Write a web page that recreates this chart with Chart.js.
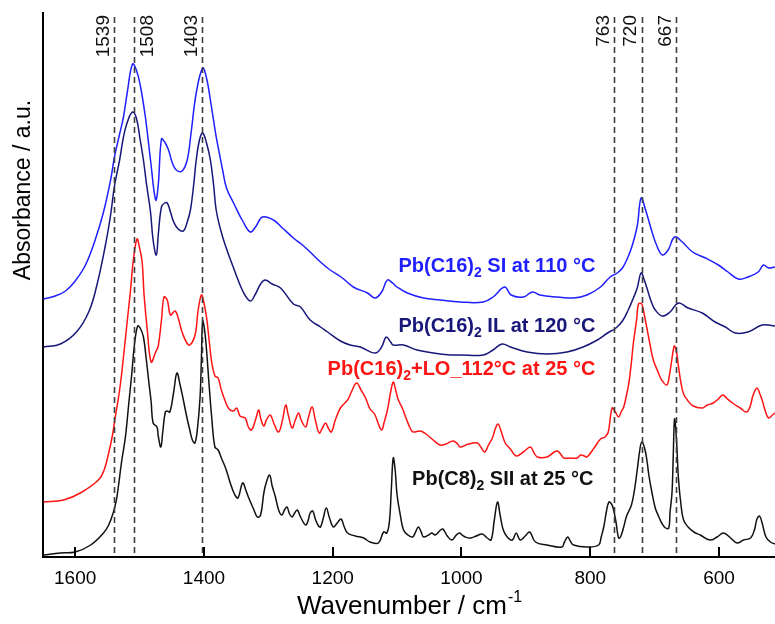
<!DOCTYPE html>
<html>
<head>
<meta charset="utf-8">
<script src="https://cdn.jsdelivr.net/npm/chart.js@4.4.1/dist/chart.umd.min.js"></script>
<style>
  html, body { margin: 0; padding: 0; background: #ffffff; }
  #wrap { width: 775px; height: 624px; }
</style>
</head>
<body>
<div id="wrap"><canvas id="chart" width="775" height="624"></canvas></div>
<script>
// FTIR spectra of lead(II) alkanoates (absorbance, arbitrary offsets)

const siWavenumber = [1649,1631,1615,1600,1584,1569,1556,1545,1539,1531,1525,1519,1511,1505,1499,1491,1483,1475,1471,1466,1461,1455,1449,1443,1434,1426,1420,1412,1402,1396,1390,1382,1378,1371,1365,1354,1339,1328,1320,1309,1292,1278,1261,1247,1235,1219,1204,1185,1168,1146,1134,1124,1115,1107,1100,1084,1059,1033,1002,966,951,933,923,904,890,878,851,826,805,784,769,758,750,742,735,727,721,714,704,697,688,679,669,657,641,621,601,586,570,555,539,531,523,513];
const siAbsorbance = [2.58,2.61,2.66,2.76,2.92,3.17,3.45,3.77,4.00,4.23,4.40,4.65,4.93,4.87,4.72,4.40,3.97,3.57,3.72,4.18,4.15,4.07,3.94,3.87,3.86,3.97,4.24,4.64,4.89,4.79,4.57,4.24,4.10,3.87,3.69,3.54,3.35,3.25,3.30,3.40,3.37,3.29,3.19,3.12,3.05,2.95,2.87,2.79,2.70,2.64,2.59,2.65,2.77,2.74,2.70,2.64,2.59,2.57,2.55,2.55,2.60,2.70,2.62,2.60,2.65,2.62,2.60,2.59,2.62,2.70,2.80,2.84,2.89,2.99,3.11,3.31,3.59,3.47,3.25,3.12,3.02,3.07,3.20,3.15,3.05,2.99,2.92,2.85,2.78,2.80,2.85,2.92,2.89,2.90];

const ilWavenumber = [1649,1623,1598,1579,1567,1553,1545,1539,1531,1525,1519,1511,1505,1499,1494,1489,1483,1479,1474,1471,1466,1461,1457,1452,1447,1440,1432,1426,1421,1416,1412,1407,1402,1396,1390,1385,1381,1374,1367,1354,1339,1328,1320,1312,1305,1294,1281,1261,1250,1235,1219,1208,1188,1173,1157,1134,1124,1117,1110,1106,1090,1069,1044,1017,1002,966,951,937,924,898,867,836,811,789,773,760,750,741,733,727,721,716,711,705,699,688,676,663,648,626,606,590,575,555,533,513];
const ilAbsorbance = [2.10,2.13,2.25,2.45,2.70,3.12,3.42,3.71,3.97,4.20,4.35,4.45,4.39,4.17,3.97,3.72,3.45,3.17,3.02,3.22,3.50,3.54,3.54,3.45,3.35,3.28,3.26,3.35,3.47,3.72,3.97,4.17,4.24,4.14,3.97,3.72,3.47,3.27,3.12,2.89,2.65,2.56,2.63,2.73,2.77,2.73,2.69,2.53,2.50,2.37,2.30,2.25,2.16,2.12,2.10,2.04,2.10,2.20,2.15,2.12,2.12,2.07,2.04,2.02,2.02,2.02,2.07,2.13,2.10,2.05,2.03,2.05,2.10,2.17,2.24,2.29,2.36,2.47,2.59,2.69,2.84,2.77,2.67,2.55,2.47,2.41,2.45,2.54,2.49,2.44,2.35,2.30,2.24,2.25,2.32,2.31];

const loWavenumber = [1649,1618,1592,1564,1555,1548,1542,1538,1531,1525,1519,1514,1510,1504,1500,1496,1493,1488,1482,1475,1471,1466,1462,1457,1452,1445,1440,1434,1424,1418,1413,1409,1404,1401,1396,1392,1388,1383,1378,1373,1367,1361,1354,1349,1344,1336,1331,1326,1320,1315,1312,1307,1303,1297,1291,1284,1278,1273,1269,1263,1258,1253,1249,1242,1238,1232,1227,1221,1216,1211,1207,1202,1196,1188,1177,1171,1163,1156,1149,1142,1135,1129,1124,1120,1115,1110,1106,1103,1098,1092,1085,1079,1075,1064,1055,1044,1033,1024,1013,1006,1002,989,975,971,964,958,952,947,943,938,932,924,915,904,893,888,882,867,856,851,846,841,831,820,815,809,805,794,784,777,772,766,761,756,752,748,744,740,736,733,728,725,720,716,712,707,702,694,689,681,677,674,671,669,666,663,659,655,648,640,626,618,609,601,594,587,579,567,557,551,547,541,537,533,528,523,517,513];
const loAbsorbance = [0.55,0.57,0.64,0.77,0.87,1.04,1.22,1.39,1.67,2.00,2.37,2.67,2.95,3.18,3.09,2.95,2.62,2.27,1.95,2.05,2.11,2.37,2.60,2.57,2.42,2.46,2.39,2.25,2.12,2.15,2.24,2.47,2.62,2.57,2.40,2.17,1.95,1.81,1.79,1.67,1.56,1.48,1.46,1.49,1.41,1.39,1.30,1.27,1.37,1.47,1.39,1.31,1.37,1.42,1.33,1.25,1.37,1.52,1.42,1.29,1.37,1.44,1.37,1.30,1.39,1.50,1.37,1.24,1.29,1.34,1.29,1.25,1.37,1.49,1.57,1.65,1.74,1.67,1.59,1.48,1.43,1.33,1.27,1.35,1.47,1.65,1.75,1.69,1.57,1.49,1.37,1.28,1.25,1.26,1.23,1.17,1.12,1.13,1.16,1.13,1.10,1.13,1.14,1.11,1.05,1.12,1.19,1.29,1.33,1.25,1.14,1.08,1.01,1.05,1.10,1.05,1.00,1.00,1.05,1.06,1.03,0.99,0.99,0.99,1.02,1.01,1.00,1.09,1.18,1.20,1.25,1.49,1.45,1.40,1.45,1.50,1.61,1.74,1.95,2.14,2.37,2.53,2.53,2.42,2.29,2.12,1.97,1.84,1.77,1.72,1.82,1.94,2.07,2.11,2.05,1.91,1.74,1.63,1.56,1.51,1.49,1.52,1.54,1.58,1.62,1.58,1.54,1.49,1.45,1.52,1.62,1.69,1.64,1.57,1.46,1.39,1.42,1.44];

const c8Wavenumber = [1649,1623,1600,1576,1556,1548,1541,1536,1533,1528,1522,1517,1512,1508,1503,1499,1494,1490,1486,1482,1479,1473,1471,1467,1464,1460,1457,1453,1447,1442,1437,1432,1427,1422,1418,1414,1410,1406,1404,1402,1399,1396,1392,1388,1383,1378,1373,1367,1362,1357,1351,1347,1341,1339,1335,1331,1323,1317,1312,1307,1303,1298,1294,1289,1284,1279,1275,1271,1267,1263,1260,1255,1250,1242,1238,1235,1231,1227,1222,1219,1215,1210,1205,1199,1193,1187,1182,1177,1165,1152,1142,1129,1121,1116,1112,1109,1106,1103,1100,1095,1090,1083,1076,1072,1067,1062,1059,1051,1046,1041,1034,1029,1022,1015,1008,1003,999,994,986,977,968,960,954,949,944,940,935,929,921,915,909,901,894,885,867,844,840,835,831,826,805,787,783,779,775,771,767,764,760,756,753,748,744,740,736,732,727,723,720,716,712,709,704,699,694,689,683,678,676,673,671,669,666,663,659,655,648,639,629,614,603,593,582,572,562,551,545,541,537,533,527,520,513];
const c8Absorbance = [0.02,0.04,0.05,0.12,0.24,0.32,0.44,0.57,0.70,0.95,1.20,1.52,1.84,2.12,2.31,2.29,2.20,2.00,1.77,1.55,1.34,1.30,1.21,1.10,1.25,1.45,1.46,1.45,1.65,1.84,1.72,1.57,1.41,1.27,1.17,1.14,1.29,1.60,1.97,2.36,2.27,2.07,1.72,1.40,1.10,1.07,0.99,0.90,0.80,0.70,0.61,0.59,0.73,0.74,0.67,0.60,0.48,0.40,0.42,0.64,0.75,0.82,0.71,0.60,0.47,0.42,0.47,0.50,0.43,0.40,0.43,0.47,0.40,0.32,0.37,0.44,0.46,0.38,0.31,0.30,0.38,0.49,0.39,0.30,0.34,0.38,0.30,0.24,0.21,0.19,0.15,0.14,0.25,0.24,0.35,0.67,0.99,0.87,0.62,0.42,0.27,0.22,0.20,0.24,0.30,0.24,0.20,0.22,0.24,0.22,0.26,0.28,0.21,0.17,0.22,0.24,0.22,0.20,0.19,0.21,0.23,0.19,0.17,0.37,0.55,0.42,0.27,0.20,0.17,0.24,0.17,0.21,0.25,0.15,0.12,0.10,0.15,0.20,0.16,0.12,0.10,0.12,0.20,0.30,0.45,0.55,0.53,0.48,0.35,0.19,0.20,0.30,0.40,0.46,0.52,0.64,0.87,1.07,1.15,1.10,0.97,0.82,0.64,0.49,0.41,0.34,0.29,0.29,0.45,0.64,1.02,1.38,1.17,0.79,0.52,0.37,0.30,0.25,0.22,0.17,0.20,0.24,0.19,0.14,0.17,0.19,0.27,0.38,0.41,0.34,0.20,0.15,0.13];

// marked band positions (cm-1)
const bandPositions = [1539, 1508, 1403, 763, 720, 667];
const bandLabels = ['1539', '1508', '1403', '763', '720', '667'];

// sample names: formula head, subscript, remainder
const sampleHeads = ['Pb(C16)', 'Pb(C16)', 'Pb(C16)', 'Pb(C8)'];
const sampleSubs = ['2', '2', '2', '2'];
const sampleTails = [' SI at 110 \u00B0C', ' IL at 120 \u00B0C', '+LO_112\u00B0C at 25 \u00B0C', ' SII at 25 \u00B0C'];

const xTitle = 'Wavenumber / cm';
const xTitleSup = '-1';
const yTitle = 'Absorbance / a.u.';

const FONT = '"Liberation Sans", Arial, Helvetica, sans-serif';
const seriesColors = ['#1f1fff', '#17177a', '#ff1414', '#111111'];

function toPoints(xs, ys) {
  const n = Math.min(xs.length, ys.length);
  const out = [];
  for (let i = 0; i < n; i++) out.push({ x: xs[i], y: ys[i] });
  return out;
}

// anchor of each sample name: right end (cm-1) and baseline (absorbance)
const nameAnchors = [
  { wn: 792, abs: 2.85 },
  { wn: 792, abs: 2.25 },
  { wn: 792, abs: 1.82 },
  { wn: 795, abs: 0.72 }
];

// the 1508 label sits to the right of its marker, the others to the left
const labelOffset = p => (p === 1508 ? 13 : -10.5);

const annotations = {
  id: 'annotations',
  afterDatasetsDraw(chart) {
    const { ctx, chartArea: a, scales: { x, y } } = chart;
    ctx.save();

    // dashed band markers
    ctx.strokeStyle = '#3c3c3c';
    ctx.lineWidth = 1.6;
    ctx.setLineDash([6, 4]);
    bandPositions.forEach(p => {
      const px = Math.round(x.getPixelForValue(p)) + 0.5;
      ctx.beginPath();
      ctx.moveTo(px, a.top + 4);
      ctx.lineTo(px, a.bottom);
      ctx.stroke();
    });
    ctx.setLineDash([]);

    // band labels, rotated
    ctx.fillStyle = '#111';
    ctx.font = '19px ' + FONT;
    ctx.textAlign = 'right';
    ctx.textBaseline = 'middle';
    bandPositions.forEach((p, i) => {
      const px = x.getPixelForValue(p);
      ctx.save();
      ctx.translate(px + labelOffset(p), a.top + 2);
      ctx.rotate(-Math.PI / 2);
      ctx.fillText(bandLabels[i], 0, 0);
      ctx.restore();
    });

    // inward tick marks on the wavenumber axis
    ctx.strokeStyle = '#000';
    ctx.lineWidth = 2;
    x.ticks.forEach(t => {
      const px = Math.round(x.getPixelForValue(t.value));
      ctx.beginPath();
      ctx.moveTo(px, a.bottom);
      ctx.lineTo(px, a.bottom - 10);
      ctx.stroke();
    });

    // sample names with subscript
    ctx.textAlign = 'left';
    ctx.textBaseline = 'alphabetic';
    const mainFont = 'bold 20px ' + FONT;
    const subFont = 'bold 14px ' + FONT;
    nameAnchors.forEach((an, i) => {
      ctx.font = mainFont;
      const w1 = ctx.measureText(sampleHeads[i]).width;
      const w3 = ctx.measureText(sampleTails[i]).width;
      ctx.font = subFont;
      const w2 = ctx.measureText(sampleSubs[i]).width;
      const right = x.getPixelForValue(an.wn);
      const base = y.getPixelForValue(an.abs);
      let cx = right - (w1 + w2 + w3);
      ctx.fillStyle = seriesColors[i];
      ctx.font = mainFont;
      ctx.fillText(sampleHeads[i], cx, base);
      cx += w1;
      ctx.font = subFont;
      ctx.fillText(sampleSubs[i], cx, base + 5);
      cx += w2;
      ctx.font = mainFont;
      ctx.fillText(sampleTails[i], cx, base);
    });

    // axis titles
    ctx.fillStyle = '#000';
    ctx.font = '26px ' + FONT;
    const tw = ctx.measureText(xTitle).width;
    ctx.font = '16px ' + FONT;
    const sw = ctx.measureText(xTitleSup).width;
    const cxm = (a.left + a.right) / 2;
    const sx = cxm - (tw + sw) / 2;
    ctx.font = '26px ' + FONT;
    ctx.fillText(xTitle, sx, 614);
    ctx.font = '16px ' + FONT;
    ctx.fillText(xTitleSup, sx + tw + 1, 602);

    ctx.save();
    ctx.font = '23px ' + FONT;
    ctx.textAlign = 'center';
    ctx.textBaseline = 'middle';
    ctx.translate(24, 190);
    ctx.rotate(-Math.PI / 2);
    ctx.fillText(yTitle, 0, 0);
    ctx.restore();

    ctx.restore();
  }
};

function spectrum(label, xs, ys, color) {
  return {
    label,
    data: toPoints(xs, ys),
    borderColor: color,
    borderWidth: 1.5,
    pointRadius: 0,
    fill: false,
    tension: 0.4
  };
}

new Chart(document.getElementById('chart'), {
  type: 'line',
  data: {
    datasets: [
      spectrum('Pb(C16)2 SI at 110 °C', siWavenumber, siAbsorbance, seriesColors[0]),
      spectrum('Pb(C16)2 IL at 120 °C', ilWavenumber, ilAbsorbance, seriesColors[1]),
      spectrum('Pb(C16)2+LO_112°C at 25 °C', loWavenumber, loAbsorbance, seriesColors[2]),
      spectrum('Pb(C8)2 SII at 25 °C', c8Wavenumber, c8Absorbance, seriesColors[3])
    ]
  },
  options: {
    responsive: false,
    devicePixelRatio: 1,
    animation: false,
    layout: { padding: { left: 0, right: 0, top: 13, bottom: 0 } },
    plugins: { legend: { display: false }, tooltip: { enabled: false } },
    scales: {
      x: {
        type: 'linear',
        reverse: true,
        min: 513,
        max: 1650,
        afterFit(s) { s.height = 67; },
        border: { display: true, color: '#000', width: 2 },
        grid: { display: false, drawTicks: false },
        ticks: {
          stepSize: 200,
          includeBounds: false,
          maxRotation: 0,
          padding: 10,
          color: '#000',
          font: { family: FONT, size: 19 },
          callback: v => String(v)
        }
      },
      y: {
        min: 0,
        max: 5.44,
        afterFit(s) { s.width = 43; },
        border: { display: true, color: '#000', width: 2 },
        grid: { display: false, drawTicks: false },
        ticks: { display: false }
      }
    }
  },
  plugins: [annotations]
});
</script>
</body>
</html>
